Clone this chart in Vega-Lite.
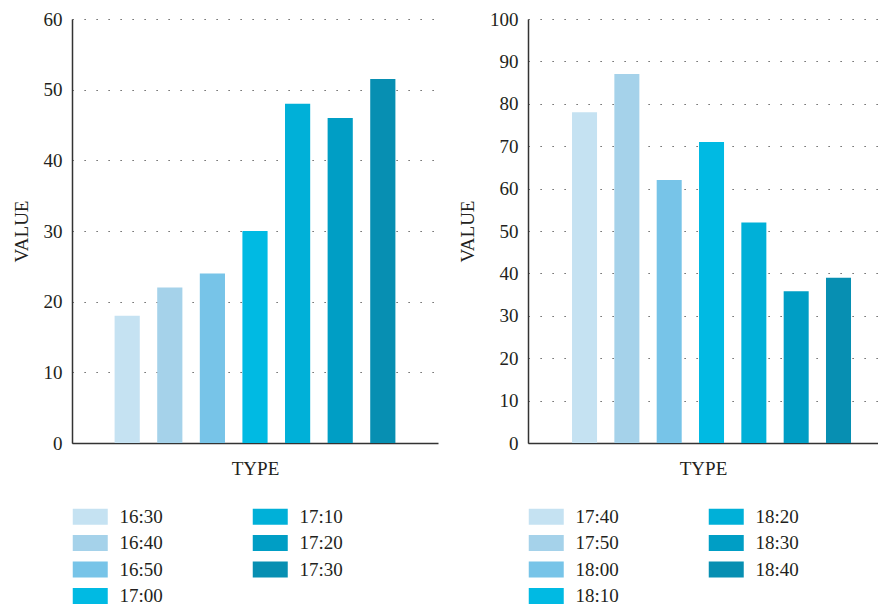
{
  "$schema": "https://vega.github.io/schema/vega-lite/v6.json",
  "padding": {"left": 12, "top": 10, "right": 0, "bottom": 0},
  "background": "white",
  "datasets": {
    "left": [
      {"time": "16:30", "value": 18},
      {"time": "16:40", "value": 22},
      {"time": "16:50", "value": 24},
      {"time": "17:00", "value": 30},
      {"time": "17:10", "value": 48},
      {"time": "17:20", "value": 46},
      {"time": "17:30", "value": 51.5}
    ],
    "right": [
      {"time": "17:40", "value": 78},
      {"time": "17:50", "value": 87},
      {"time": "18:00", "value": 62},
      {"time": "18:10", "value": 71},
      {"time": "18:20", "value": 52},
      {"time": "18:30", "value": 35.8},
      {"time": "18:40", "value": 39}
    ]
  },
  "spacing": 20,
  "resolve": {"scale": {"color": "independent", "y": "independent", "x": "independent"}},
  "hconcat": [
    {
      "width": 366,
      "height": 424,
      "data": {"name": "left"},
      "mark": {"type": "bar"},
      "encoding": {
        "x": {
          "field": "time", "type": "nominal", "sort": "ascending",
          "scale": {"paddingInner": 0.409, "paddingOuter": 1.04},
          "axis": {"title": "TYPE", "labels": false, "ticks": false, "titlePadding": 16}
        },
        "y": {
          "field": "value", "type": "quantitative",
          "scale": {"domain": [0, 60]},
          "axis": {"title": "VALUE", "values": [0, 10, 20, 30, 40, 50, 60], "grid": true}
        },
        "color": {
          "field": "time", "type": "nominal",
          "scale": {
            "domain": ["16:30", "16:40", "16:50", "17:00", "17:10", "17:20", "17:30"],
            "range": ["#c5e2f2", "#a5d2ea", "#77c4e8", "#00bae3", "#00b0d8", "#009ec5", "#078fb2"]
          },
          "legend": {"title": null}
        }
      }
    },
    {
      "width": 350,
      "height": 424,
      "data": {"name": "right"},
      "mark": {"type": "bar"},
      "encoding": {
        "x": {
          "field": "time", "type": "nominal", "sort": "ascending",
          "scale": {"paddingInner": 0.409, "paddingOuter": 0.839, "align": 0.62},
          "axis": {"title": "TYPE", "labels": false, "ticks": false, "titlePadding": 16}
        },
        "y": {
          "field": "value", "type": "quantitative",
          "scale": {"domain": [0, 100]},
          "axis": {"title": "VALUE", "values": [0, 10, 20, 30, 40, 50, 60, 70, 80, 90, 100], "grid": true}
        },
        "color": {
          "field": "time", "type": "nominal",
          "scale": {
            "domain": ["17:40", "17:50", "18:00", "18:10", "18:20", "18:30", "18:40"],
            "range": ["#c5e2f2", "#a5d2ea", "#77c4e8", "#00bae3", "#00b0d8", "#009ec5", "#078fb2"]
          },
          "legend": {"title": null}
        }
      }
    }
  ],
  "config": {
    "view": {"stroke": null},
    "font": "Liberation Serif",
    "axis": {
      "labelFont": "Liberation Serif",
      "titleFont": "Liberation Serif",
      "labelFontSize": 19,
      "titleFontSize": 19,
      "titleFontWeight": "normal",
      "labelColor": "#231f20",
      "titleColor": "#231f20",
      "domainColor": "#333333",
      "domainWidth": 1.5,
      "ticks": false,
      "labelPadding": 10,
      "gridColor": "#444444",
      "gridDash": [1.2, 10.8],
      "gridWidth": 1.2,
      "gridOpacity": 1
    },
    "axisY": {"titlePadding": 12},
    "axisX": {"grid": false},
    "legend": {
      "orient": "none",
      "legendX": 8.75,
      "legendY": 488,
      "columns": 2,
      "padding": 0,
      "symbolType": "M-2,-0.914h4v1.828h-4z",
      "symbolSize": 306.25,
      "symbolStrokeWidth": 0,
      "labelFont": "Liberation Serif",
      "labelFontSize": 19,
      "labelColor": "#231f20",
      "labelOffset": 19.75,
      "rowPadding": 6.5,
      "columnPadding": 89
    }
  }
}
